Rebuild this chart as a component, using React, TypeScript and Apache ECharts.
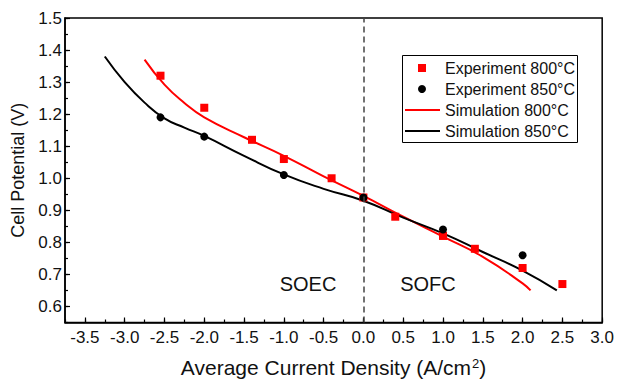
import React, { useEffect, useRef } from "react";
import * as echarts from "echarts";

const exp800X = [-2.55, -2.0, -1.4, -1.0, -0.4, 0.0, 0.4, 1.0, 1.4, 2.0, 2.5];
const exp800Y = [1.32, 1.22, 1.12, 1.06, 1.0, 0.94, 0.88, 0.82, 0.78, 0.72, 0.67];
const exp850X = [-2.55, -2.0, -1.0, 0.0, 1.0, 2.0];
const exp850Y = [1.19, 1.13, 1.01, 0.94, 0.84, 0.76];
const sim800X = [-2.75, -2.5, -2.25, -2.0, -1.5, -1.0, -0.5, 0.0, 0.5, 1.0, 1.5, 2.0, 2.1];
const sim800Y = [1.37, 1.292, 1.235, 1.19, 1.128, 1.07, 1.006, 0.945, 0.88, 0.818, 0.755, 0.672, 0.65];
const sim850X = [-3.25, -3.0, -2.75, -2.5, -2.25, -2.0, -1.5, -1.0, -0.5, 0.0, 0.5, 1.0, 1.5, 2.0, 2.43];
const sim850Y = [1.38, 1.3, 1.236, 1.187, 1.158, 1.132, 1.07, 1.012, 0.967, 0.93, 0.877, 0.828, 0.77, 0.712, 0.65];
const xTicks = [-3.5, -3.0, -2.5, -2.0, -1.5, -1.0, -0.5, 0.0, 0.5, 1.0, 1.5, 2.0, 2.5, 3.0];
const yTicks = [0.6, 0.7, 0.8, 0.9, 1.0, 1.1, 1.2, 1.3, 1.4, 1.5];
const legendNames = ["Experiment 800°C", "Experiment 850°C", "Simulation 800°C", "Simulation 850°C"];

const FONT = "'Liberation Sans', Arial, sans-serif";

const zip = (xs: number[], ys: number[]) => xs.map((x, i) => [x, ys[i]]);

export default function App() {
  const ref = useRef<HTMLDivElement>(null);
  useEffect(() => {
    const chart = echarts.init(ref.current!, null, { renderer: "svg" });
    const lx = 402, ly = 55, rowY = [68, 89, 110, 131];
    const legendText = legendNames.map((n, i) => ({
      type: "text", x: 445, y: rowY[i],
      style: { text: n, fontSize: 16, fontFamily: FONT, fill: "#111", verticalAlign: "middle", align: "left" },
    }));
    chart.setOption({
      animation: false,
      textStyle: { fontFamily: FONT },
      grid: {
        left: 65, right: 12, top: 18, bottom: 56,
        show: true, borderColor: "#000", borderWidth: 1.5,
      },
      xAxis: [
        {
          type: "value", min: -3.75, max: 3.0,
          name: "{a|Average Current Density (A/cm}{s|2}{a|)}",
          nameLocation: "middle", nameGap: 34,
          nameTextStyle: {
            color: "#111",
            rich: {
              a: { fontSize: 21, fontFamily: FONT, color: "#111" },
              s: { fontSize: 13, fontFamily: FONT, color: "#111", verticalAlign: "top", padding: [0, 0, 9, 1] },
            },
          },
          axisLine: { onZero: false, lineStyle: { color: "#000", width: 1.5 } },
          axisTick: { inside: true, length: 5, customValues: xTicks, lineStyle: { color: "#000", width: 1.2 } },
          axisLabel: {
            customValues: xTicks, fontSize: 17, color: "#111", margin: 6,
            formatter: (v: number) => v.toFixed(1),
          },
          splitLine: { show: false },
        },
        {
          type: "value", min: -3.75, max: 3.0, interval: 0.25, position: "bottom",
          axisLine: { show: false, onZero: false },
          axisTick: { inside: true, length: 3, lineStyle: { color: "#000", width: 1.2 } },
          axisLabel: { show: false },
          splitLine: { show: false },
        },
      ],
      yAxis: [
        {
          type: "value", min: 0.55, max: 1.5,
          name: "Cell Potential (V)",
          nameLocation: "middle", nameGap: 31,
          nameTextStyle: { fontSize: 18, color: "#111", fontFamily: FONT },
          axisLine: { onZero: false, lineStyle: { color: "#000", width: 1.5 } },
          axisTick: { inside: true, length: 5, customValues: yTicks, lineStyle: { color: "#000", width: 1.2 } },
          axisLabel: {
            customValues: yTicks, fontSize: 17, color: "#111", margin: 3,
            formatter: (v: number) => v.toFixed(1),
          },
          splitLine: { show: false },
        },
        {
          type: "value", min: 0.55, max: 1.5, interval: 0.05, position: "left",
          axisLine: { show: false, onZero: false },
          axisTick: { inside: true, length: 3, lineStyle: { color: "#000", width: 1.2 } },
          axisLabel: { show: false },
          splitLine: { show: false },
        },
      ],
      graphic: [
        { type: "text", x: 308, y: 284, style: { text: "SOEC", fontSize: 20, fontFamily: FONT, fill: "#111", align: "center", verticalAlign: "middle" } },
        { type: "text", x: 428, y: 284, style: { text: "SOFC", fontSize: 20, fontFamily: FONT, fill: "#111", align: "center", verticalAlign: "middle" } },
        { type: "rect", shape: { x: lx + 0.5, y: ly + 0.5, width: 175, height: 87 }, style: { fill: "#fff", stroke: "#000", lineWidth: 1 }, z: 10 },
        { type: "rect", shape: { x: 418, y: rowY[0] - 4, width: 8, height: 8 }, style: { fill: "#ff0000" }, z: 11 },
        { type: "circle", shape: { cx: 422, cy: rowY[1], r: 4 }, style: { fill: "#000" }, z: 11 },
        { type: "line", shape: { x1: 405, y1: rowY[2], x2: 440, y2: rowY[2] }, style: { stroke: "#ff0000", lineWidth: 2 }, z: 11 },
        { type: "line", shape: { x1: 405, y1: rowY[3], x2: 440, y2: rowY[3] }, style: { stroke: "#000", lineWidth: 2 }, z: 11 },
        ...legendText.map((t) => ({ ...t, z: 11 })),
      ],
      series: [
        {
          name: legendNames[2], type: "line", smooth: true, symbol: "none",
          data: zip(sim800X, sim800Y),
          lineStyle: { color: "#ff0000", width: 2 }, itemStyle: { color: "#ff0000" }, z: 2,
        },
        {
          name: legendNames[3], type: "line", smooth: true, symbol: "none",
          data: zip(sim850X, sim850Y),
          lineStyle: { color: "#000", width: 2 }, itemStyle: { color: "#000" }, z: 2,
          markLine: {
            silent: true, symbol: "none", label: { show: false },
            lineStyle: { color: "#444", type: [6, 4], width: 1.5 },
            data: [{ xAxis: 0 }],
          },
        },
        {
          name: legendNames[0], type: "scatter", symbol: "rect", symbolSize: 8,
          data: zip(exp800X, exp800Y), itemStyle: { color: "#ff0000", opacity: 1 }, z: 3,
        },
        {
          name: legendNames[1], type: "scatter", symbol: "circle", symbolSize: 8,
          data: zip(exp850X, exp850Y), itemStyle: { color: "#000", opacity: 1 }, z: 3,
        },
      ],
    });
    return () => chart.dispose();
  }, []);
  return <div ref={ref} style={{ position: "absolute", left: 0, top: 0, width: 617, height: 383, background: "#fff" }} />;
}
